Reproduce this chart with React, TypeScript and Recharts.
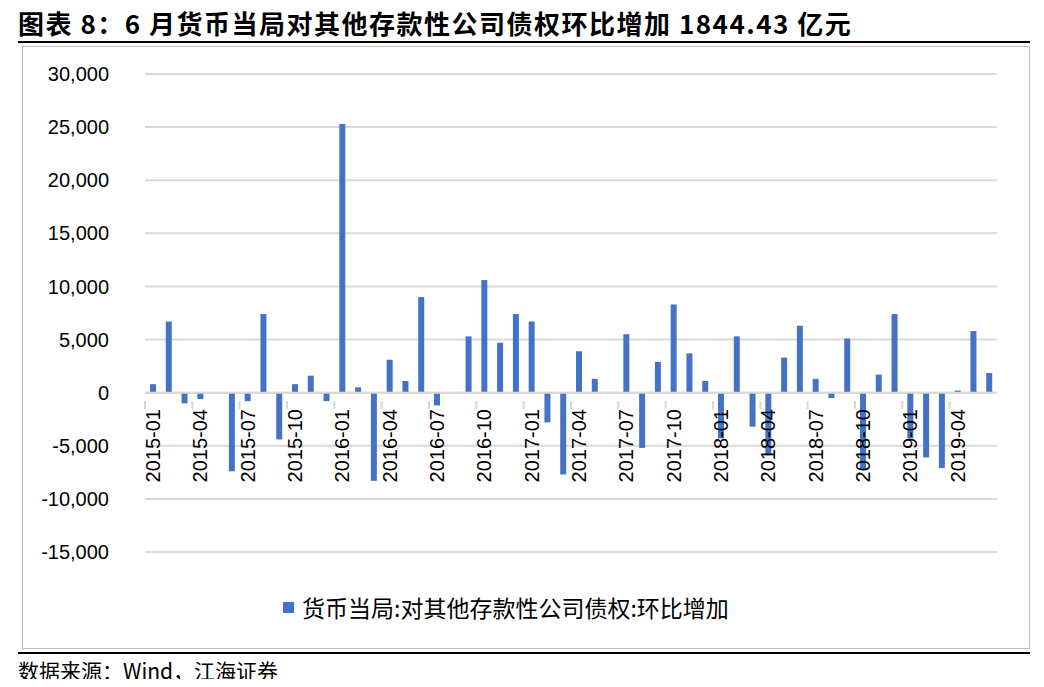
import React from "react";
import { BarChart, Bar, XAxis, YAxis, CartesianGrid, ReferenceLine } from "recharts";

const months: string[] = [];
for (let y = 2015; y <= 2019; y++) for (let m = 1; m <= 12; m++) if (!(y === 2019 && m > 6)) months.push(`${y}-${String(m).padStart(2, "0")}`);

const values = [
  800, 6700, -1000, -600, 0, -7400, -800, 7400, -4400, 800, 1600, -800,
  25300, 500, -8300, 3100, 1100, 9000, -1200, 0, 5300, 10600, 4700, 7400,
  6700, -2800, -7700, 3900, 1300, 0, 5500, -5200, 2900, 8300, 3700, 1100,
  -4300, 5300, -3200, -5900, 3300, 6300, 1300, -500, 5100, -7200, 1700, 7400,
  -4300, -6100, -7100, 200, 5800, 1844.43,
];
const yTicks = [-15000, -10000, -5000, 0, 5000, 10000, 15000, 20000, 25000, 30000];

const data = months.map((m, i) => ({ m, v: values[i] }));
const ZERO_OFF = 159;
const FONT = "'Liberation Sans', Arial, sans-serif";

const Tick = (p: any) => {
  const { x, y, payload, index } = p;
  const y0 = y - ZERO_OFF;
  if (index % 3 !== 0) return null;
  return (
    <g>
      <line x1={x - 7.9} x2={x - 7.9} y1={y0} y2={y0 + 8} stroke="#d9d9d9" strokeWidth={2} />
      <text x={x} y={y0 + 8} transform={`rotate(-90 ${x} ${y0 + 8})`} textAnchor="end" dominantBaseline="central" fontSize={20} fill="#000" fontFamily={FONT}>
        {payload.value}
      </text>
    </g>
  );
};

export default function App() {
  return (
    <div style={{ position: "relative", width: 1044, height: 687, margin: -8, background: "#fff", fontFamily: FONT }}>
      <div style={{ position: "absolute", left: 18, top: 4, fontSize: 26, letterSpacing: 1.5, fontWeight: "bold", fontFamily: "'Noto Sans CJK SC', sans-serif", whiteSpace: "nowrap" }}>
        图表 8：6 月货币当局对其他存款性公司债权环比增加 1844.43 亿元
      </div>
      <div style={{ position: "absolute", left: 18, top: 41, width: 1012, height: 1.5, background: "#000" }} />
      <div style={{ position: "absolute", left: 22, top: 46, width: 1006, height: 601, border: "1px solid #bfbfbf" }} />
      <div style={{ position: "absolute", left: 18, top: 652, width: 1012, height: 1.5, background: "#000" }} />
      <div style={{ position: "absolute", left: 18, top: 655, fontSize: 21, fontFamily: "'Noto Sans CJK SC', sans-serif" }}>
        数据来源：Wind，江海证券
      </div>
      <div style={{ position: "absolute", left: 0, top: 0 }}>
        <BarChart width={1044} height={687} data={data} margin={{ top: 74, bottom: 134, left: 85, right: 47 }}>
          <CartesianGrid vertical={false} stroke="#d9d9d9" strokeWidth={2} />
          <XAxis dataKey="m" height={1} axisLine={false} tickLine={false} interval={0} tick={<Tick />} />
          <YAxis width={60} domain={[-15000, 30000]} ticks={yTicks} axisLine={false} tickLine={false} tickMargin={30}
            tickFormatter={(v: number) => v.toLocaleString("en-US")} tick={{ fontSize: 20, fill: "#000", fontFamily: FONT }} />
          <ReferenceLine y={0} stroke="#d9d9d9" strokeWidth={2} />
          <Bar dataKey="v" fill="#4472c4" barSize={6} isAnimationActive={false} />
        </BarChart>
      </div>
      <div style={{ position: "absolute", left: 283, top: 590, display: "flex", alignItems: "center", fontSize: 23, fontFamily: "'Noto Sans CJK SC', sans-serif" }}>
        <span style={{ display: "inline-block", width: 11, height: 11, background: "#4472c4", marginRight: 8 }} />
        货币当局:对其他存款性公司债权:环比增加
      </div>
    </div>
  );
}
